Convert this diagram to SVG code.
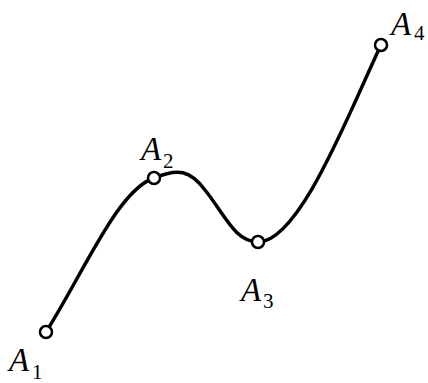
<svg xmlns="http://www.w3.org/2000/svg" width="428" height="383" viewBox="0 0 428 383">
<style>
.pt{fill:#fff;stroke:#000;stroke-width:2.5}
</style>
<rect width="428" height="383" fill="#fff"/>
<g id="connectors">
<path d="M46,332 C85,270 118,190 154,178 C178,168 190,170 205,190 C225,215 235,242 258,242 C300,242 350,110 381,45" fill="none" stroke="#000" stroke-width="3.5"/>
</g>
<g font-family="Times New Roman, Liberation Serif, DejaVu Serif, serif" fill="#000">
<g id="A1"><circle class="pt" cx="46" cy="332" r="6"/><text font-style="italic" font-size="33" x="9" y="371">A</text><text font-size="21" x="32" y="379">1</text></g>
<g id="A2"><circle class="pt" cx="154" cy="178" r="6"/><text font-style="italic" font-size="33" x="141" y="160">A</text><text font-size="21" x="163" y="168">2</text></g>
<g id="A3"><circle class="pt" cx="258" cy="242" r="6"/><text font-style="italic" font-size="33" x="241" y="301">A</text><text font-size="21" x="263" y="308">3</text></g>
<g id="A4"><circle class="pt" cx="381" cy="45" r="6"/><text font-style="italic" font-size="33" x="391" y="35">A</text><text font-size="21" x="414" y="40">4</text></g>
</g>
</svg>
